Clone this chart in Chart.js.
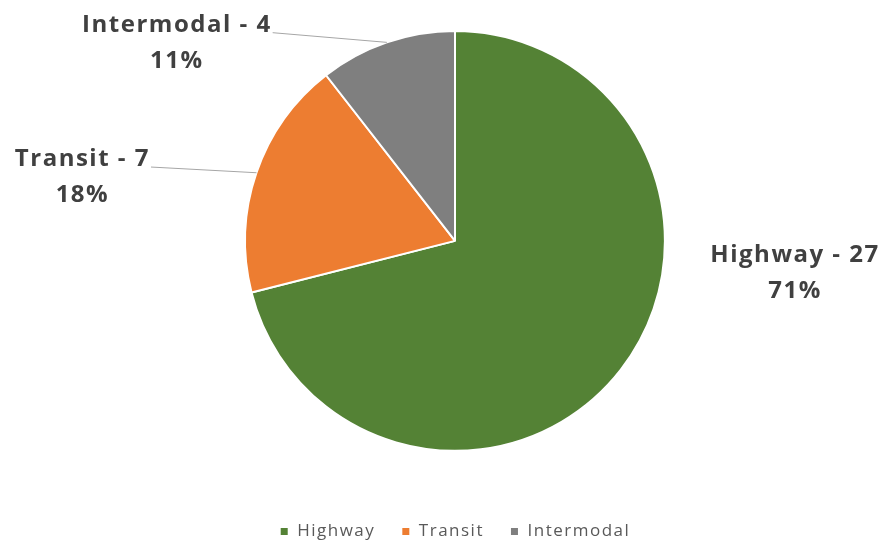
<!DOCTYPE html>
<html>
<head>
<meta charset="utf-8">
<script src="https://cdn.jsdelivr.net/npm/chart.js@4"></script>
<style>
  html, body { margin: 0; padding: 0; background: #fff; }
  #wrap { width: 886px; height: 542px; }
</style>
</head>
<body>
<div id="wrap"><canvas id="pieChart"></canvas></div>
<script>
// данные диаграммы
const categories = ['Highway', 'Transit', 'Intermodal'];
const counts = [27, 7, 4];
const percents = ['71%', '18%', '11%'];
const colors = ['#548235', '#ED7D31', '#7F7F7F'];

// где стоят подписи (в долях радиуса от центра) и нужна ли выноска
const labelPlace = [
    { dx: 1.62, dy: 0.07, leader: false },
    { dx: -1.775, dy: -0.39, leader: true },
    { dx: -1.325, dy: -1.03, leader: true }
];

// шрифт в оригинале чуть растянут по ширине — добавляем межбуквенный интервал
const spacing = {
    id: 'spacing',
    beforeUpdate(chart) { chart.ctx.letterSpacing = '1.5px'; },
    beforeDraw(chart) { chart.ctx.letterSpacing = '1.5px'; }
};

const pieLabels = {
    id: 'pieLabels',
    afterDatasetsDraw(chart) {
        const ctx = chart.ctx;
        const meta = chart.getDatasetMeta(0);
        ctx.save();
        ctx.font = 'bold 24px "Open Sans"';
        ctx.letterSpacing = '1.5px';
        ctx.textAlign = 'center';
        ctx.textBaseline = 'middle';
        meta.data.forEach((arc, i) => {
            const r = arc.outerRadius;
            const p = labelPlace[i];
            const x = arc.x + p.dx * r;
            const y = arc.y + p.dy * r;
            const line1 = categories[i] + ' - ' + counts[i];
            if (p.leader) {
                const mid = (arc.startAngle + arc.endAngle) / 2;
                const ex = arc.x + Math.cos(mid) * r;
                const ey = arc.y + Math.sin(mid) * r;
                const w = ctx.measureText(line1).width;
                ctx.strokeStyle = '#A6A6A6';
                ctx.lineWidth = 1;
                ctx.beginPath();
                ctx.moveTo(x + w / 2 + 1, y + 8);
                ctx.lineTo(ex, ey);
                ctx.stroke();
            }
            ctx.fillStyle = '#404040';
            ctx.fillText(line1, x, y);
            ctx.fillText(percents[i], x, y + 36);
        });
        ctx.restore();
    }
};

const ctx = document.getElementById('pieChart').getContext('2d');
new Chart(ctx, {
    type: 'pie',
    data: {
        labels: categories,
        datasets: [{
            data: counts,
            backgroundColor: colors,
            borderColor: '#ffffff',
            borderWidth: 2
        }]
    },
    options: {
        responsive: true,
        maintainAspectRatio: false,
        animation: false,
        layout: { padding: { top: 30, bottom: -8, left: 210, right: 186 } },
        plugins: {
            tooltip: { enabled: false },
            legend: {
                position: 'bottom',
                title: {
                    display: true,
                    text: '',
                    font: { size: 1 },
                    padding: { top: 44, bottom: 0 }
                },
                labels: {
                    usePointStyle: true,
                    pointStyle: 'rect',
                    boxWidth: 9,
                    boxHeight: 9,
                    padding: 26,
                    color: '#595959',
                    font: { family: '"Open Sans"', size: 17 }
                }
            }
        }
    },
    plugins: [spacing, pieLabels]
});
</script>
</body>
</html>
